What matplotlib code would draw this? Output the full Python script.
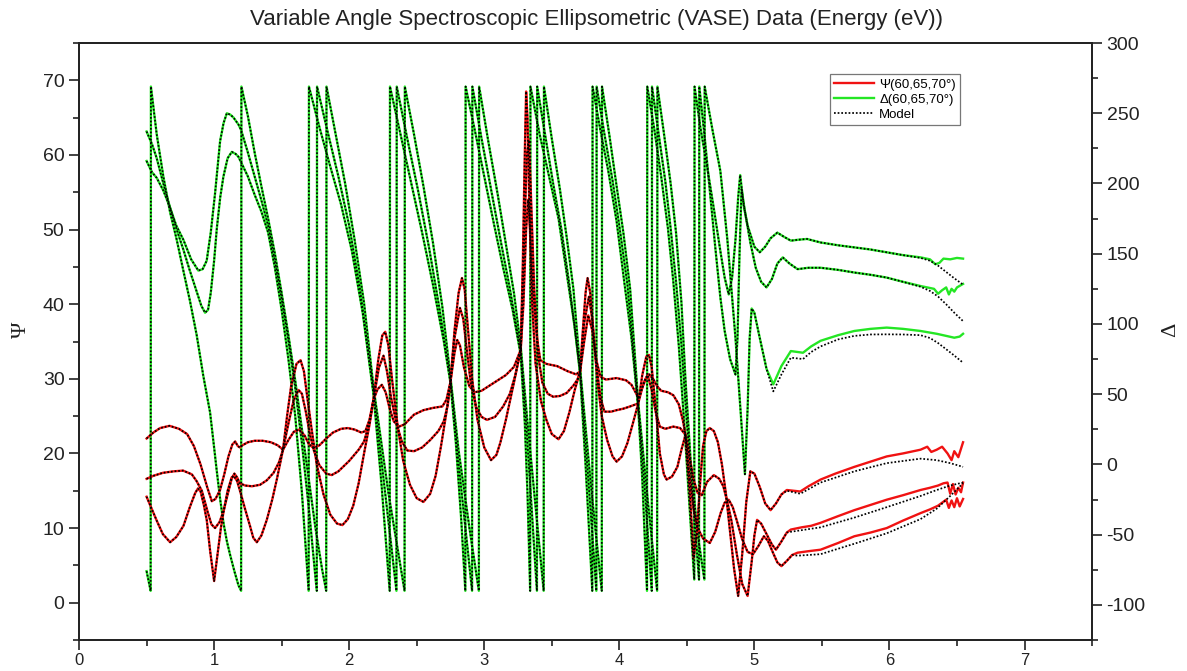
import matplotlib
matplotlib.use("Agg")
import matplotlib.pyplot as plt
from matplotlib.lines import Line2D
from matplotlib.ticker import MultipleLocator, FixedLocator

plt.rcParams['font.family'] = ['Liberation Sans', 'DejaVu Sans']
plt.rcParams['axes.unicode_minus'] = False

# ---------------------------------------------------------------------------
# Measured Psi (deg) vs photon energy (eV), one trace per angle of incidence
# ---------------------------------------------------------------------------
psi_1 = [
    (0.50, 22.0), (0.55, 22.8), (0.60, 23.4), (0.67, 23.7), (0.74, 23.3), (0.80, 22.6),
    (0.85, 21.0), (0.90, 18.5), (0.95, 15.4), (0.983, 13.6), (1.01, 13.9), (1.044, 15.1),
    (1.075, 17.2), (1.106, 19.6), (1.135, 21.2), (1.156, 21.6), (1.175, 21.0), (1.19, 20.8),
    (1.21, 21.1), (1.25, 21.5), (1.30, 21.7), (1.36, 21.7), (1.42, 21.5), (1.47, 21.1),
    (1.51, 20.5), (1.55, 21.8), (1.59, 22.9), (1.63, 23.2), (1.67, 22.4), (1.70, 21.3),
    (1.736, 20.7), (1.78, 21.1), (1.83, 22.0), (1.88, 22.8), (1.94, 23.3), (1.99, 23.4),
    (2.04, 23.2), (2.09, 22.8), (2.12, 23.0), (2.15, 24.5), (2.18, 27.2), (2.21, 28.6),
    (2.242, 29.2), (2.27, 28.2), (2.30, 26.0), (2.33, 24.3), (2.37, 23.6), (2.41, 23.9),
    (2.48, 25.2), (2.55, 25.8), (2.62, 26.1), (2.69, 26.3), (2.72, 27.2), (2.75, 29.6),
    (2.78, 33.5), (2.80, 35.2), (2.82, 34.5), (2.85, 31.5), (2.89, 29.0), (2.93, 28.2),
    (2.98, 28.4), (3.04, 29.1), (3.10, 29.8), (3.16, 30.5), (3.22, 31.6), (3.27, 33.9),
    (3.29, 40.0), (3.31, 50.0), (3.325, 54.0), (3.34, 50.0), (3.36, 42.0), (3.39, 35.5),
    (3.415, 32.5), (3.46, 32.0), (3.54, 31.7), (3.62, 31.0), (3.68, 30.6), (3.71, 31.0),
    (3.74, 35.0), (3.77, 38.5), (3.80, 36.5), (3.83, 32.5), (3.86, 30.3), (3.90, 29.9),
    (3.98, 30.1), (4.05, 29.8), (4.09, 29.2), (4.12, 28.2), (4.14, 27.5), (4.17, 28.8),
    (4.20, 30.2), (4.22, 30.6), (4.25, 30.0), (4.28, 29.0), (4.31, 28.4), (4.36, 28.2),
    (4.40, 27.8), (4.44, 26.6), (4.47, 24.5), (4.49, 22.5), (4.52, 15.5), (4.55, 6.0),
    (4.575, 9.5), (4.60, 16.5), (4.62, 21.0), (4.645, 23.0), (4.67, 23.4), (4.70, 23.0),
    (4.73, 21.5), (4.76, 18.5), (4.79, 14.5), (4.82, 9.5), (4.85, 4.5), (4.88, 0.9),
    (4.91, 6.5), (4.94, 13.5), (4.97, 17.6), (5.00, 17.3), (5.04, 15.5), (5.08, 13.3),
    (5.12, 12.4), (5.16, 13.3), (5.20, 14.5), (5.24, 15.1), (5.29, 15.0), (5.34, 14.9),
    (5.40, 15.6), (5.49, 16.5), (5.60, 17.3), (5.74, 18.2), (5.86, 18.9), (5.98, 19.6),
    (6.10, 20.0), (6.23, 20.5), (6.28, 20.9), (6.31, 20.2), (6.35, 20.5), (6.39, 20.9),
    (6.43, 20.0), (6.46, 19.1), (6.48, 20.3), (6.51, 19.5), (6.545, 21.5),
]

psi_2 = [
    (0.50, 16.6), (0.55, 17.0), (0.62, 17.4), (0.70, 17.6), (0.77, 17.7), (0.835, 17.2),
    (0.87, 16.3), (0.909, 15.0), (0.95, 12.3), (0.98, 10.5), (1.007, 10.0), (1.04, 10.8),
    (1.07, 12.3), (1.10, 14.5), (1.13, 16.6), (1.15, 17.3), (1.17, 16.8), (1.19, 16.0),
    (1.23, 15.7), (1.28, 15.6), (1.34, 15.8), (1.39, 16.4), (1.44, 17.4), (1.48, 18.8),
    (1.51, 20.5), (1.55, 24.0), (1.59, 27.2), (1.625, 28.5), (1.65, 28.0), (1.68, 25.5),
    (1.71, 22.5), (1.74, 20.3), (1.78, 18.4), (1.83, 17.3), (1.87, 17.1), (1.92, 17.6),
    (2.00, 19.0), (2.07, 20.5), (2.11, 21.6), (2.15, 24.1), (2.18, 27.2), (2.22, 31.5),
    (2.254, 33.1), (2.28, 31.0), (2.31, 27.5), (2.35, 24.0), (2.39, 21.6), (2.43, 20.4),
    (2.48, 20.3), (2.54, 20.8), (2.60, 21.8), (2.66, 23.0), (2.70, 24.3), (2.73, 26.5),
    (2.75, 29.6), (2.78, 35.5), (2.82, 39.5), (2.845, 38.0), (2.87, 34.0), (2.90, 29.5),
    (2.94, 26.2), (2.98, 24.9), (3.02, 24.5), (3.08, 24.9), (3.14, 26.3), (3.19, 28.0),
    (3.23, 30.5), (3.27, 33.9), (3.29, 45.0), (3.315, 60.0), (3.33, 62.0), (3.345, 55.0),
    (3.37, 42.0), (3.40, 33.0), (3.43, 29.5), (3.47, 28.0), (3.51, 27.6), (3.56, 27.7),
    (3.61, 28.1), (3.66, 29.1), (3.69, 29.9), (3.71, 31.0), (3.74, 37.5), (3.775, 41.0),
    (3.80, 38.0), (3.83, 32.0), (3.86, 27.5), (3.89, 25.6), (3.94, 25.6), (3.98, 25.8),
    (4.03, 26.0), (4.08, 26.3), (4.11, 26.5), (4.14, 26.7), (4.18, 29.5), (4.21, 30.5),
    (4.24, 28.5), (4.27, 25.5), (4.30, 23.6), (4.34, 23.3), (4.40, 23.6), (4.45, 23.4),
    (4.49, 22.5), (4.52, 19.5), (4.55, 16.5), (4.58, 14.7), (4.61, 14.4), (4.65, 16.2),
    (4.70, 17.1), (4.74, 16.6), (4.77, 15.6), (4.80, 13.5), (4.83, 11.0), (4.87, 6.5),
    (4.91, 2.5), (4.95, 0.9), (4.98, 5.5), (5.00, 9.0), (5.02, 11.1), (5.05, 10.6),
    (5.09, 9.2), (5.13, 7.8), (5.16, 7.1), (5.20, 8.2), (5.24, 9.4), (5.27, 9.8),
    (5.35, 10.1), (5.42, 10.3), (5.49, 10.7), (5.62, 11.6), (5.74, 12.4), (5.86, 13.1),
    (5.98, 13.8), (6.10, 14.4), (6.23, 15.1), (6.30, 15.4), (6.36, 15.7), (6.40, 16.0),
    (6.43, 16.1), (6.45, 14.6), (6.47, 15.9), (6.49, 14.5), (6.51, 15.4), (6.53, 14.8),
    (6.545, 16.1),
]

psi_3 = [
    (0.50, 14.2), (0.54, 12.5), (0.575, 11.0), (0.62, 9.2), (0.674, 8.1), (0.72, 8.8),
    (0.773, 10.3), (0.82, 12.8), (0.86, 14.7), (0.88, 15.3), (0.90, 14.9), (0.925, 13.0),
    (0.946, 11.0), (0.97, 7.0), (1.00, 2.9), (1.025, 6.5), (1.05, 10.0), (1.07, 12.2),
    (1.10, 15.0), (1.13, 16.8), (1.145, 17.0), (1.17, 16.3), (1.19, 15.1), (1.23, 12.5),
    (1.267, 10.2), (1.29, 8.7), (1.316, 8.1), (1.35, 9.0), (1.39, 11.1), (1.43, 13.8),
    (1.464, 16.5), (1.49, 18.8), (1.51, 20.5), (1.54, 25.0), (1.57, 29.0), (1.61, 32.0),
    (1.64, 32.5), (1.665, 31.0), (1.69, 27.5), (1.72, 23.5), (1.76, 18.5), (1.81, 14.5),
    (1.86, 11.8), (1.91, 10.6), (1.95, 10.4), (1.99, 11.2), (2.03, 13.0), (2.07, 16.0),
    (2.11, 20.0), (2.15, 23.8), (2.18, 27.2), (2.215, 32.5), (2.245, 35.8), (2.267, 36.3),
    (2.29, 34.5), (2.32, 29.5), (2.36, 23.5), (2.40, 19.0), (2.45, 15.8), (2.50, 14.0),
    (2.55, 13.5), (2.60, 14.6), (2.64, 17.0), (2.68, 21.0), (2.72, 25.5), (2.75, 29.6),
    (2.78, 36.5), (2.81, 41.5), (2.835, 43.5), (2.855, 42.0), (2.88, 36.5), (2.91, 30.0),
    (2.95, 24.5), (3.00, 20.8), (3.05, 19.1), (3.09, 19.8), (3.12, 21.5), (3.16, 24.5),
    (3.22, 29.5), (3.27, 33.9), (3.285, 45.0), (3.30, 60.0), (3.31, 68.5), (3.32, 65.0),
    (3.335, 52.0), (3.355, 40.0), (3.38, 32.0), (3.42, 27.0), (3.46, 24.5), (3.50, 22.6),
    (3.55, 21.9), (3.59, 23.0), (3.63, 25.5), (3.67, 28.5), (3.71, 31.0), (3.73, 36.5),
    (3.75, 41.5), (3.765, 43.5), (3.785, 41.5), (3.81, 35.5), (3.84, 29.5), (3.87, 25.0),
    (3.91, 21.8), (3.95, 19.6), (3.98, 18.9), (4.02, 19.6), (4.06, 21.4), (4.10, 24.0),
    (4.14, 26.7), (4.17, 30.5), (4.20, 33.0), (4.22, 33.2), (4.24, 31.5), (4.27, 26.0),
    (4.30, 20.0), (4.33, 17.2), (4.35, 16.5), (4.39, 16.9), (4.43, 18.2), (4.46, 20.5),
    (4.49, 22.5), (4.52, 17.0), (4.55, 12.5), (4.58, 10.0), (4.62, 8.6), (4.67, 8.0),
    (4.71, 9.5), (4.75, 12.0), (4.78, 13.4), (4.81, 13.8), (4.84, 12.8), (4.87, 11.0),
    (4.91, 8.5), (4.95, 6.8), (4.99, 6.5), (5.03, 7.6), (5.07, 8.9), (5.10, 8.3),
    (5.14, 6.6), (5.17, 5.4), (5.20, 4.9), (5.24, 5.6), (5.28, 6.4), (5.32, 6.7),
    (5.40, 6.9), (5.49, 7.1), (5.62, 8.0), (5.74, 8.9), (5.86, 9.4), (5.98, 10.0),
    (6.10, 11.0), (6.23, 12.0), (6.30, 12.5), (6.36, 13.0), (6.42, 13.8), (6.44, 12.7),
    (6.46, 13.7), (6.48, 12.8), (6.50, 14.0), (6.52, 12.9), (6.545, 13.9),
]

# Model Psi where it departs from the measurement (high-energy end)
psi_1_fit_tail = [(5.24, 15.0), (5.34, 14.6), (5.49, 16.1), (5.74, 17.6), (5.98, 18.7),
                  (6.23, 19.3), (6.35, 19.1), (6.45, 18.7), (6.545, 18.2)]
psi_2_fit_tail = [(5.27, 9.5), (5.49, 10.1), (5.74, 11.4), (5.98, 12.8), (6.23, 14.3),
                  (6.35, 15.1), (6.45, 15.7), (6.545, 16.1)]
psi_3_fit_tail = [(5.32, 6.3), (5.49, 6.5), (5.74, 7.9), (5.98, 9.3), (6.23, 11.2),
                  (6.35, 12.6), (6.45, 14.3), (6.545, 16.0)]

# ---------------------------------------------------------------------------
# Measured Delta (deg), folded into the -90..270 window as recorded
# ---------------------------------------------------------------------------
delta_1 = [
    (0.50, 216), (0.54, 208), (0.575, 204), (0.624, 195), (0.673, 183), (0.72, 168),
    (0.772, 153), (0.82, 138), (0.871, 123), (0.905, 113), (0.933, 108), (0.955, 110),
    (0.975, 122), (1.00, 145), (1.02, 168), (1.045, 190), (1.069, 205), (1.10, 218),
    (1.131, 222.5), (1.16, 221), (1.18, 219), (1.20, 215), (1.25, 205), (1.30, 192),
    (1.35, 180), (1.40, 165), (1.45, 140), (1.50, 110), (1.55, 75), (1.60, 35),
    (1.65, -20), (1.70, -90), (1.702, 269), (1.78, 240), (1.86, 212), (1.94, 185),
    (2.02, 152), (2.10, 108), (2.18, 50), (2.24, -15), (2.30, -90), (2.302, 269),
    (2.38, 235), (2.46, 200), (2.54, 165), (2.62, 128), (2.70, 88), (2.75, 58),
    (2.79, 15), (2.83, -40), (2.86, -90), (2.862, 269), (2.93, 238), (3.00, 205),
    (3.07, 172), (3.14, 140), (3.21, 110), (3.27, 78), (3.30, 30), (3.32, -20),
    (3.34, -90), (3.342, 269), (3.41, 235), (3.48, 205), (3.55, 175), (3.62, 130),
    (3.67, 98), (3.71, 64), (3.75, 0), (3.80, -90), (3.802, 269), (3.86, 238),
    (3.92, 208), (3.98, 173), (4.03, 135), (4.09, 90), (4.14, 40), (4.17, -10),
    (4.205, -90), (4.207, 269), (4.26, 238), (4.31, 205), (4.36, 168), (4.40, 130),
    (4.44, 85), (4.48, 30), (4.52, -30), (4.555, -82), (4.557, 269), (4.60, 240),
    (4.65, 212), (4.70, 182), (4.748, 152), (4.78, 133), (4.81, 121), (4.835, 133),
    (4.86, 160), (4.88, 190), (4.895, 206), (4.92, 185), (4.95, 170), (4.97, 164),
    (5.00, 155), (5.04, 151), (5.08, 155), (5.12, 161), (5.17, 165), (5.22, 162),
    (5.27, 159.3), (5.33, 160), (5.39, 160.5), (5.49, 158), (5.62, 156), (5.74, 154.5),
    (5.86, 153), (5.98, 151), (6.10, 149), (6.23, 147.4), (6.30, 146), (6.34, 142.5),
    (6.37, 143.5), (6.40, 146.5), (6.45, 146), (6.50, 147), (6.545, 146.5),
]

delta_2 = [
    (0.50, 237), (0.54, 228), (0.575, 218), (0.624, 200), (0.673, 183), (0.72, 170),
    (0.772, 160), (0.83, 146), (0.883, 138), (0.915, 139), (0.945, 145), (0.975, 165),
    (1.007, 193), (1.044, 230), (1.07, 243), (1.094, 250), (1.12, 249), (1.143, 247),
    (1.18, 242), (1.20, 238), (1.25, 222), (1.30, 205), (1.35, 188), (1.40, 170),
    (1.45, 145), (1.50, 118), (1.55, 88), (1.60, 55), (1.65, 15), (1.70, -30),
    (1.76, -90), (1.762, 269), (1.84, 237), (1.92, 205), (2.00, 170), (2.08, 125),
    (2.18, 52), (2.26, -15), (2.35, -90), (2.352, 269), (2.43, 232), (2.51, 195),
    (2.59, 155), (2.67, 110), (2.75, 60), (2.80, 10), (2.86, -45), (2.91, -90),
    (2.912, 269), (2.98, 232), (3.05, 196), (3.12, 160), (3.19, 125), (3.27, 80),
    (3.31, 30), (3.35, -30), (3.39, -90), (3.392, 269), (3.45, 235), (3.51, 200),
    (3.57, 168), (3.63, 128), (3.71, 66), (3.77, -10), (3.83, -90), (3.832, 269),
    (3.89, 235), (3.95, 202), (4.00, 170), (4.06, 128), (4.14, 42), (4.19, -20),
    (4.24, -90), (4.242, 269), (4.29, 236), (4.34, 202), (4.38, 168), (4.42, 130),
    (4.46, 85), (4.50, 30), (4.55, -30), (4.59, -82), (4.592, 269), (4.63, 235),
    (4.67, 195), (4.71, 155), (4.748, 119), (4.78, 95), (4.82, 75), (4.86, 64),
    (4.875, 90), (4.89, 150), (4.905, 196), (4.93, 180), (4.97, 158), (5.01, 140),
    (5.05, 130), (5.09, 126), (5.13, 132), (5.17, 143), (5.21, 147.4), (5.26, 143),
    (5.32, 139), (5.40, 140), (5.49, 140), (5.62, 138.5), (5.74, 136.6), (5.86, 135),
    (5.98, 133), (6.10, 130), (6.23, 127), (6.28, 126), (6.33, 125), (6.36, 121.5),
    (6.39, 124), (6.42, 126), (6.44, 121), (6.46, 125), (6.48, 123), (6.50, 126),
    (6.545, 128.5),
]

delta_3 = [
    (0.50, -76), (0.515, -83), (0.53, -90), (0.532, 269), (0.575, 235), (0.624, 205),
    (0.673, 180), (0.723, 160), (0.772, 138), (0.822, 116), (0.871, 92), (0.92, 63),
    (0.97, 37), (1.00, 12), (1.02, -5), (1.045, -25), (1.07, -42), (1.095, -55),
    (1.12, -65), (1.15, -76), (1.18, -86), (1.20, -90), (1.202, 269), (1.25, 248),
    (1.30, 222), (1.35, 198), (1.40, 175), (1.45, 150), (1.50, 122), (1.55, 92),
    (1.60, 60), (1.65, 25), (1.70, -10), (1.75, -45), (1.80, -75), (1.83, -90),
    (1.832, 269), (1.90, 235), (1.97, 200), (2.04, 160), (2.11, 115), (2.18, 55),
    (2.29, -20), (2.41, -90), (2.412, 269), (2.48, 235), (2.55, 198), (2.62, 158),
    (2.69, 112), (2.75, 62), (2.81, 10), (2.89, -45), (2.96, -90), (2.962, 269),
    (3.03, 230), (3.10, 192), (3.16, 157), (3.22, 122), (3.27, 84), (3.32, 30),
    (3.38, -30), (3.44, -90), (3.442, 269), (3.50, 232), (3.56, 196), (3.61, 162),
    (3.66, 125), (3.71, 68), (3.79, -15), (3.87, -90), (3.872, 269), (3.93, 232),
    (3.98, 198), (4.03, 165), (4.08, 125), (4.14, 44), (4.21, -25), (4.28, -90),
    (4.282, 269), (4.33, 236), (4.38, 200), (4.42, 165), (4.46, 115), (4.49, 60),
    (4.53, 0), (4.58, -50), (4.63, -82), (4.632, 269), (4.69, 238), (4.748, 209),
    (4.80, 160), (4.86, 90), (4.90, 35), (4.93, -7), (4.95, 40), (4.965, 90),
    (4.98, 111), (5.00, 108), (5.04, 90), (5.09, 68), (5.14, 57), (5.20, 70),
    (5.27, 80.7), (5.36, 79.5), (5.42, 84), (5.49, 88), (5.62, 92), (5.74, 95),
    (5.86, 96.5), (5.98, 97.4), (6.10, 96.5), (6.23, 95), (6.35, 93), (6.42, 91.5),
    (6.48, 90.2), (6.52, 91), (6.545, 93),
]

# Model Delta where it departs from the measurement
delta_1_fit_tail = [(6.23, 147), (6.30, 145), (6.36, 141.5), (6.42, 137), (6.48, 132.5),
                    (6.545, 128)]
delta_2_fit_tail = [(6.23, 126.5), (6.30, 123.5), (6.36, 119.5), (6.42, 114), (6.48, 108),
                    (6.545, 102)]
delta_3_fit_tail = [(5.14, 52), (5.20, 64), (5.27, 76), (5.36, 75), (5.42, 80), (5.49, 84),
                    (5.62, 89), (5.74, 91.5), (5.86, 92.5), (5.98, 92.6), (6.10, 92.5),
                    (6.23, 92), (6.30, 90), (6.36, 86.4), (6.42, 82), (6.48, 77.5),
                    (6.545, 72.4)]

legend_labels = ['\u03a8(60,65,70\u00b0)', '\u0394(60,65,70\u00b0)', 'Model']
title = 'Variable Angle Spectroscopic Ellipsometric (VASE) Data (Energy (eV))'


def split(points):
    xs, ys = zip(*points)
    return list(xs), list(ys)


def with_fit_tail(points, tail):
    """Model curve: follows the measurement up to the first tail energy."""
    start = tail[0][0]
    head = [p for p in points if p[0] < start]
    return split(head + tail)


RED = '#f01212'
GREEN = '#24e624'
DOTS = (0, (1.0, 1.1))
INK = '#222222'

fig = plt.figure(figsize=(11.87, 6.71), dpi=100)
ax = fig.add_axes([0.0666, 0.0462, 0.8534, 0.8897])
ax2 = ax.twinx()
ax.set_zorder(ax2.get_zorder() + 1)
ax.patch.set_visible(False)

ax.set_xlim(0, 7.5)
ax.set_ylim(-5, 75)
ax2.set_ylim(-125, 300)

# measured Delta (right axis)
for pts in (delta_1, delta_2, delta_3):
    x, y = split(pts)
    ax2.plot(x, y, color=GREEN, lw=1.7, solid_joinstyle='round')

# measured Psi (left axis)
for pts in (psi_1, psi_2, psi_3):
    x, y = split(pts)
    ax.plot(x, y, color=RED, lw=1.7, solid_joinstyle='round')

# model curves, dotted black on top of everything
for pts, tail in ((delta_1, delta_1_fit_tail), (delta_2, delta_2_fit_tail),
                  (delta_3, delta_3_fit_tail)):
    x, y = with_fit_tail(pts, tail)
    ax.plot(x, y, color='black', lw=1.25, ls=DOTS, transform=ax2.transData)
for pts, tail in ((psi_1, psi_1_fit_tail), (psi_2, psi_2_fit_tail),
                  (psi_3, psi_3_fit_tail)):
    x, y = with_fit_tail(pts, tail)
    ax.plot(x, y, color='black', lw=1.25, ls=DOTS)

# axes cosmetics
ax.xaxis.set_major_locator(MultipleLocator(1))
ax.xaxis.set_minor_locator(MultipleLocator(0.5))
ax.yaxis.set_major_locator(FixedLocator(list(range(0, 71, 10))))
ax.yaxis.set_minor_locator(MultipleLocator(5))
ax2.yaxis.set_major_locator(FixedLocator(list(range(-100, 301, 50))))
ax2.yaxis.set_minor_locator(MultipleLocator(25))

for a in (ax, ax2):
    a.tick_params(which='both', direction='out', width=1.2, colors=INK,
                  labelcolor=INK, labelsize=14)
    a.tick_params(which='major', length=7)
    a.tick_params(which='minor', length=4)
    for s in a.spines.values():
        s.set_linewidth(1.3)
        s.set_color(INK)
ax.tick_params(top=False, right=False, which='both')
ax.tick_params(axis='x', pad=2.5, labelsize=12)

ax.set_ylabel('\u03a8', family=['Liberation Serif', 'DejaVu Serif'], fontsize=16, color=INK)
ax.yaxis.set_label_coords(-0.047, 0.52)
ax2.set_ylabel('\u0394', family=['Liberation Serif', 'DejaVu Serif'], fontsize=16, color=INK)
ax2.yaxis.set_label_coords(1.068, 0.52)

fig.text(597 / 1187, 1 - 20 / 671, title, ha='center', va='center', fontsize=16,
         color=INK)

handles = [Line2D([], [], color=RED, lw=1.7),
           Line2D([], [], color=GREEN, lw=1.7),
           Line2D([], [], color='black', lw=1.25, ls=DOTS)]
leg = ax.legend(handles, legend_labels, loc='upper left', bbox_to_anchor=(0.741, 0.948),
                fontsize=9.5, frameon=True, fancybox=False, framealpha=1,
                edgecolor='#777777', handlelength=3.0, handletextpad=0.4,
                borderpad=0.35, labelspacing=0.2, borderaxespad=0)
leg.get_frame().set_linewidth(0.9)

fig.savefig('out.png', dpi=100)
